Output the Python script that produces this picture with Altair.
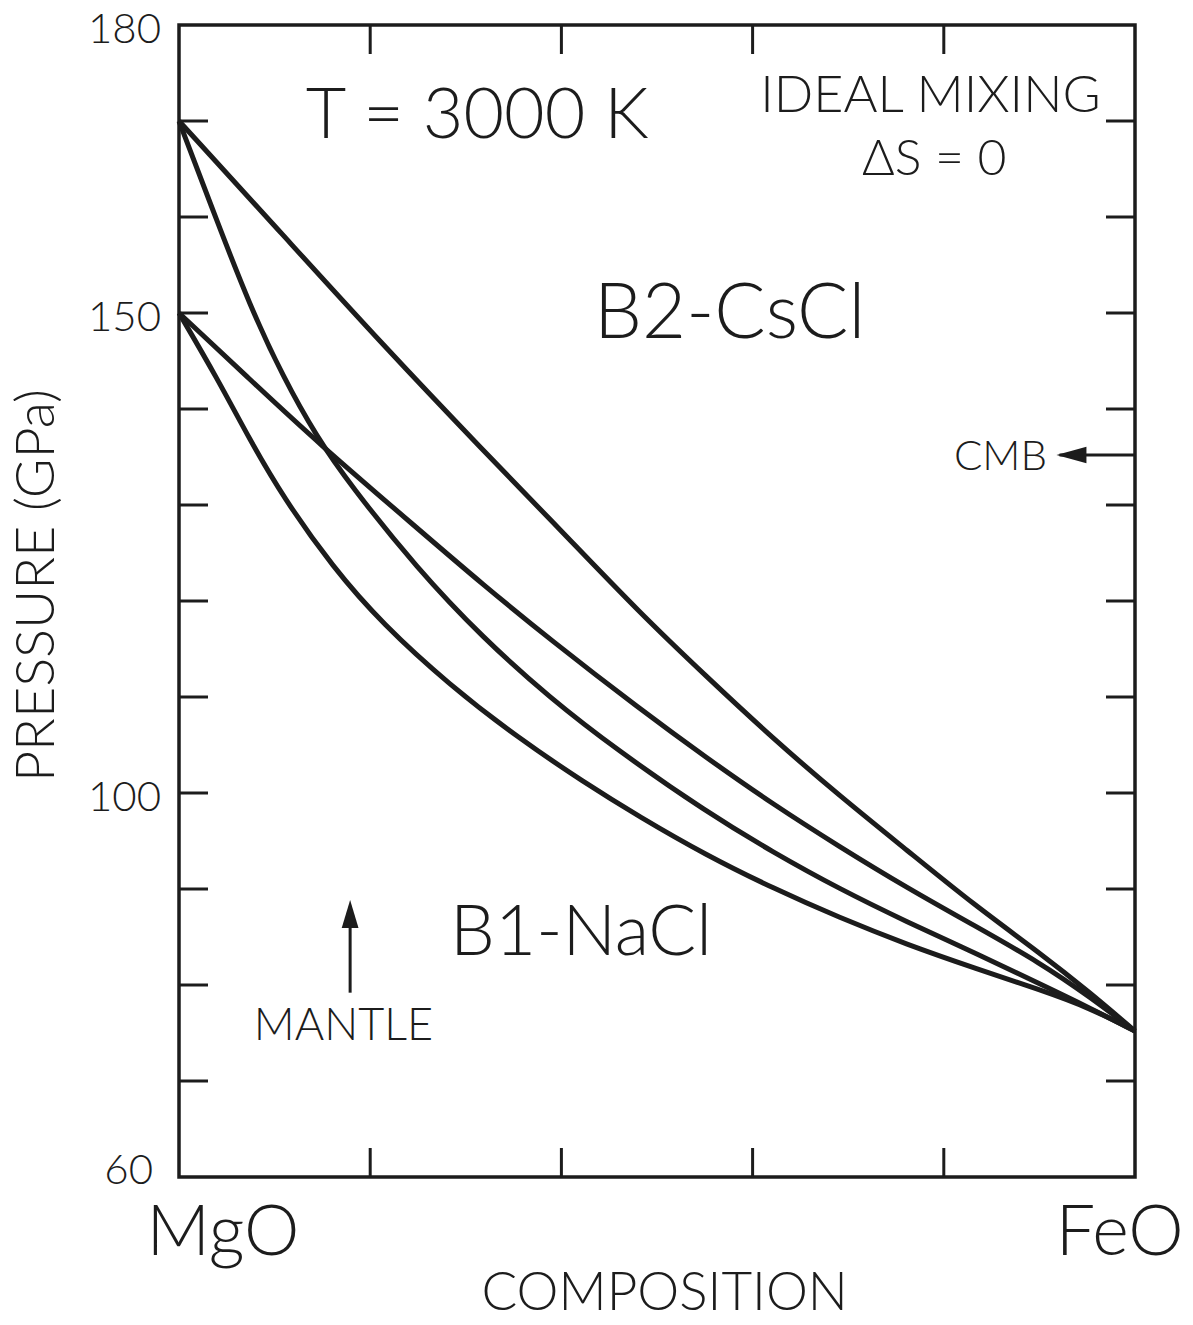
import altair as alt
import pandas as pd

# ---------------- data (composition = fraction FeO, pressure in GPa) ----------------
# Curve A: upper B2 boundary, from 170 GPa (MgO) to ~75 GPa (FeO)
comp_A = [0.0, 0.109, 0.213, 0.318, 0.399, 0.482, 0.552, 0.621, 0.691, 0.762, 0.831, 0.901, 0.953, 1.0]
pres_A = [170.0, 158.1, 146.7, 135.7, 127.4, 118.75, 112.1, 105.7, 99.7, 94.0, 88.4, 83.3, 79.2, 75.2]
# Curve B: steep curve from 170 GPa, crossing curve C
comp_B = [0.0, 0.040, 0.074, 0.109, 0.144, 0.179, 0.249, 0.318, 0.388, 0.458, 0.552, 0.621, 0.691, 0.762, 0.831, 0.901, 0.953, 1.0]
pres_B = [170.0, 159.5, 150.8, 143.3, 137.1, 132.1, 123.4, 116.15, 109.9, 104.5, 98.0, 93.85, 90.0, 86.55, 83.4, 80.1, 77.6, 75.2]
# Curve C: from 150 GPa, nearly straight
comp_C = [0.0, 0.074, 0.145, 0.249, 0.318, 0.388, 0.482, 0.552, 0.621, 0.691, 0.762, 0.831, 0.901, 0.953, 1.0]
pres_C = [150.0, 143.1, 136.5, 127.6, 121.7, 116.0, 108.75, 103.65, 98.85, 94.4, 90.1, 86.25, 82.3, 78.75, 75.2]
# Curve D: lower B1 boundary from 150 GPa
comp_D = [0.0, 0.040, 0.074, 0.109, 0.161, 0.213, 0.283, 0.354, 0.423, 0.482, 0.552, 0.621, 0.691, 0.762, 0.831, 0.901, 0.953, 1.0]
pres_D = [150.0, 143.2, 136.8, 130.8, 123.5, 117.6, 111.25, 105.8, 101.15, 97.5, 93.5, 90.1, 87.0, 84.2, 81.8, 79.5, 77.6, 75.2]

curve_names = ["A", "B", "C", "D"]

y_label_values = [100, 150, 180]
y_bottom_label = 60
y_tick_values = [70, 80, 90, 100, 110, 120, 130, 140, 150, 160, 170]
x_tick_values = [0.2, 0.4, 0.6, 0.8]
y_title = "PRESSURE (GPa)"
y_title_pres = 121.6

ann_text = ["T = 3000 K", "IDEAL MIXING", "ΔS = 0", "B2-CsCl", "B1-NaCl",
            "CMB", "MANTLE", "MgO", "FeO", "COMPOSITION"]
ann_comp = [0.312, 0.786, 0.790, 0.576, 0.4205, 0.908, 0.172, 0.046, 0.984, 0.508]
ann_pres = [168.2, 170.9, 164.4, 147.4, 83.1, 133.6, 74.3, 51.9, 51.9, 46.15]

cmb_comp = [0.921, 1.0]
cmb_pres = 135.2
cmb_head_comp = 0.9335
mantle_comp = 0.179
mantle_pres = [79.2, 87.0]
mantle_head_pres = 87.4

# ---------------- tables ----------------
rows = []
for name, cs, ps in zip(curve_names, [comp_A, comp_B, comp_C, comp_D], [pres_A, pres_B, pres_C, pres_D]):
    for i, (c, p) in enumerate(zip(cs, ps)):
        rows.append({"curve": name, "comp": c, "pres": p, "order": i})
curves_df = pd.DataFrame(rows)
ytick_df = pd.DataFrame({"pres": y_tick_values})
ylab_df = pd.DataFrame({"pres": y_label_values, "txt": [str(v) for v in y_label_values]})
ylab60_df = pd.DataFrame({"pres": [y_bottom_label], "txt": [str(y_bottom_label)]})
ytitle_df = pd.DataFrame({"pres": [y_title_pres], "txt": [y_title]})
xtick_df = pd.DataFrame({"comp": x_tick_values})
ann_df = pd.DataFrame({"label": ann_text, "comp": ann_comp, "pres": ann_pres})
cmb_df = pd.DataFrame({"c1": [cmb_comp[0]], "c2": [cmb_comp[1]], "pres": [cmb_pres]})
cmb_head_df = pd.DataFrame({"comp": [cmb_head_comp], "pres": [cmb_pres]})
mantle_df = pd.DataFrame({"comp": [mantle_comp], "p1": [mantle_pres[0]], "p2": [mantle_pres[1]]})
mantle_head_df = pd.DataFrame({"comp": [mantle_comp], "pres": [mantle_head_pres]})

W, H = 956, 1152
INK = "#1c1c1c"
FONT = "Lato"
FW = 300

xs = alt.Scale(domain=[0, 1], nice=False, zero=False)
ys = alt.Scale(domain=[60, 180], nice=False, zero=False)

lines = alt.Chart(curves_df).mark_line(
    interpolate="basis", color=INK, strokeWidth=5
).encode(
    x=alt.X("comp:Q", scale=xs, axis=None),
    y=alt.Y("pres:Q", scale=ys, axis=None),
    detail="curve:N",
    order="order:Q",
)

TL = 29
left_ticks = alt.Chart(ytick_df).mark_rule(color=INK, strokeWidth=3).encode(
    y=alt.Y("pres:Q", scale=ys, axis=None), x=alt.value(0), x2=alt.value(TL))
right_ticks = alt.Chart(ytick_df).mark_rule(color=INK, strokeWidth=3).encode(
    y=alt.Y("pres:Q", scale=ys, axis=None), x=alt.value(W - TL), x2=alt.value(W))
bottom_ticks = alt.Chart(xtick_df).mark_rule(color=INK, strokeWidth=3).encode(
    x=alt.X("comp:Q", scale=xs, axis=None), y=alt.value(H), y2=alt.value(H - TL))
top_ticks = alt.Chart(xtick_df).mark_rule(color=INK, strokeWidth=3).encode(
    x=alt.X("comp:Q", scale=xs, axis=None), y=alt.value(0), y2=alt.value(TL))

y_labels = alt.Chart(ylab_df).mark_text(
    fontSize=42, align="right", baseline="middle", font=FONT, fontWeight=FW,
    color=INK, dx=-18, dy=5
).encode(
    x=alt.value(0), y=alt.Y("pres:Q", scale=ys, axis=None), text="txt:N")

y_label60 = alt.Chart(ylab60_df).mark_text(
    fontSize=42, align="right", baseline="middle", font=FONT, fontWeight=FW,
    color=INK, dx=-26, dy=-6
).encode(
    x=alt.value(0), y=alt.Y("pres:Q", scale=ys, axis=None), text="txt:N")

y_title_mark = alt.Chart(ytitle_df).mark_text(
    fontSize=54, align="center", baseline="middle", font=FONT, fontWeight=FW,
    color=INK, angle=270
).encode(
    x=alt.value(-141), y=alt.Y("pres:Q", scale=ys, axis=None), text="txt:N")


def label(text, size, align="center"):
    return alt.Chart(ann_df).transform_filter(
        alt.datum.label == text
    ).mark_text(
        fontSize=size, align=align, baseline="alphabetic", font=FONT,
        fontWeight=FW, color=INK
    ).encode(
        x=alt.X("comp:Q", scale=xs, axis=None),
        y=alt.Y("pres:Q", scale=ys, axis=None),
        text="label:N",
    )


labels = [
    label("T = 3000 K", 70),
    label("IDEAL MIXING", 52),
    label("ΔS = 0", 50),
    label("B2-CsCl", 76),
    label("B1-NaCl", 71),
    label("CMB", 42, "right"),
    label("MANTLE", 45),
    label("MgO", 70),
    label("FeO", 70),
    label("COMPOSITION", 53),
]

cmb_line = alt.Chart(cmb_df).mark_rule(color=INK, strokeWidth=3).encode(
    x=alt.X("c1:Q", scale=xs, axis=None), x2="c2:Q",
    y=alt.Y("pres:Q", scale=ys, axis=None))
cmb_head = alt.Chart(cmb_head_df).mark_point(
    shape="M-1,0L1,-0.55L1,0.55Z", filled=True, size=900, color=INK, opacity=1
).encode(x=alt.X("comp:Q", scale=xs, axis=None), y=alt.Y("pres:Q", scale=ys, axis=None))

mantle_line = alt.Chart(mantle_df).mark_rule(color=INK, strokeWidth=3).encode(
    x=alt.X("comp:Q", scale=xs, axis=None),
    y=alt.Y("p1:Q", scale=ys, axis=None), y2="p2:Q")
mantle_head = alt.Chart(mantle_head_df).mark_point(
    shape="M0,-1L0.6,1L-0.6,1Z", filled=True, size=784, color=INK, opacity=1
).encode(x=alt.X("comp:Q", scale=xs, axis=None), y=alt.Y("pres:Q", scale=ys, axis=None))

chart = alt.layer(
    lines, left_ticks, right_ticks, bottom_ticks, top_ticks, y_labels, y_label60,
    y_title_mark, cmb_line, cmb_head, mantle_line, mantle_head, *labels
).properties(
    width=W, height=H,
    autosize=alt.AutoSizeParams(type="none"),
    padding={"left": 179, "top": 25, "right": 58, "bottom": 148},
    background="white",
).configure_view(
    stroke=INK, strokeWidth=3.5
)

chart.save("out.html", embed_options={"renderer": "svg", "actions": False})
